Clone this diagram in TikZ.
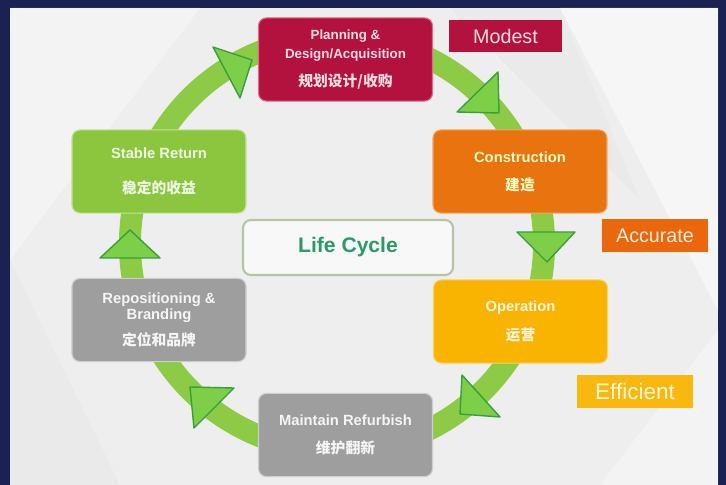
\documentclass[tikz,border=0pt]{standalone}
\usepackage{fontspec}
\setmainfont{Liberation Sans}
\newfontfamily\cjk{Noto Sans CJK SC}
\definecolor{navy}{HTML}{1B2152}
\definecolor{paper}{HTML}{EEEEEE}
\definecolor{crimson}{HTML}{B3123F}
\definecolor{rust}{HTML}{E8730F}
\definecolor{amber}{HTML}{F8B400}
\definecolor{stone}{HTML}{9E9E9E}
\definecolor{leaf}{HTML}{8CC63F}
\definecolor{ringgreen}{HTML}{8DCA45}
\definecolor{arrowfill}{HTML}{7ECF48}
\definecolor{arrowline}{HTML}{3A9E3C}
\definecolor{teal}{HTML}{2C9A68}
\definecolor{sage}{HTML}{B7C3A6}
\tikzset{stage/.style={rounded corners=0.2cm, inner sep=0pt, align=center,
    minimum width=4.35cm, minimum height=2.08cm, line width=0.8pt,
    font=\bfseries\fontsize{10.5}{13}\selectfont},
  tag/.style={inner sep=0pt, minimum height=0.82cm, font=\fontsize{14}{16}\selectfont},
  tri/.style={fill=arrowfill, draw=arrowline, line width=1pt, line join=round}}

\begin{document}
\begin{tikzpicture}[x=0.025cm, y=-0.025cm]
    \fill[navy] (0, 0) rectangle (726, 485);
    \fill[paper] (10, 8) rectangle (718, 485);
    \fill[white, opacity=0.5] (560, 8) -- (718, 8) -- (718, 310) -- cycle;
    \fill[white, opacity=0.35] (10, 8) -- (200, 8) -- (10, 260) -- cycle;
    \fill[white, opacity=0.3] (600, 485) -- (718, 330) -- (718, 485) -- cycle;
    \fill[black, opacity=0.015] (10, 260) -- (120, 485) -- (10, 485) -- cycle;
    \fill[black, opacity=0.015] (450, 8) -- (560, 8) -- (640, 200) -- cycle;

    \draw[ringgreen, line width=0.55cm] (337, 244) circle[radius=5.175cm];

    \draw[tri] (213, 47) -- (252, 60) -- (240, 98) -- cycle;
    \draw[tri] (498, 72) -- (457, 112) -- (499, 113) -- cycle;
    \draw[tri] (517, 232) -- (575, 232) -- (547, 262) -- cycle;
    \draw[tri] (462, 375) -- (460, 414) -- (500, 417) -- cycle;
    \draw[tri] (190, 387) -- (234, 388) -- (194, 428) -- cycle;
    \draw[tri] (100, 258) -- (160, 258) -- (130, 230) -- cycle;

    \node[stage, fill=crimson, draw=crimson!60!white, text=white!85!crimson,
        font=\bfseries\fontsize{9.5}{13.5}\selectfont] (plan) at (345.5, 59.5)
        {Planning \&\\Design/Acquisition\\[7pt]{\cjk\fontsize{10.5}{13}\selectfont 规划设计/收购}};
    \node[stage, fill=rust, draw=rust!60!white, text=white!75!yellow] (build) at (520, 171.5)
        {Construction\\[7pt]{\cjk 建造}};
    \node[stage, fill=amber, draw=amber!60!white, text=white!85!amber] (oper) at (520.5, 321.5)
        {Operation\\[7pt]{\cjk 运营}};
    \node[stage, fill=stone, draw=stone!50!white, text=white!90!stone] (maint) at (345.5, 435)
        {Maintain Refurbish\\[7pt]{\cjk 维护翻新}};
    \node[stage, fill=stone, draw=stone!50!white, text=white!90!stone,
        font=\bfseries\fontsize{10.5}{11.5}\selectfont] (repos) at (159, 320)
        {Repositioning \&\\Branding\\[7pt]{\cjk\fontsize{10.5}{13}\selectfont 定位和品牌}};
    \node[stage, fill=leaf, draw=leaf!50!white, text=white!85!leaf] (stable) at (159, 171.5)
        {Stable Return\\[12pt]{\cjk 稳定的收益}};

    \node[rounded corners=0.2cm, fill=white!60!paper, draw=sage, line width=1.5pt,
        minimum width=5.25cm, minimum height=1.375cm, text=teal,
        font=\bfseries\fontsize{15}{17}\selectfont] (cycle) at (348, 247.5) {Life Cycle};

    \node[tag, fill=crimson, text=white!85!crimson, minimum width=2.82cm] (modest) at (505.5, 36) {Modest};
    \node[tag, fill=rust!90!red, text=white!85!orange, minimum width=2.65cm] (accurate) at (655, 235.5) {Accurate};
    \node[tag, fill=amber!95!white, text=white!85!amber, minimum width=2.9cm,
        font=\fontsize{16}{18}\selectfont] (efficient) at (635, 391.5) {Efficient};
\end{tikzpicture}
\end{document}
